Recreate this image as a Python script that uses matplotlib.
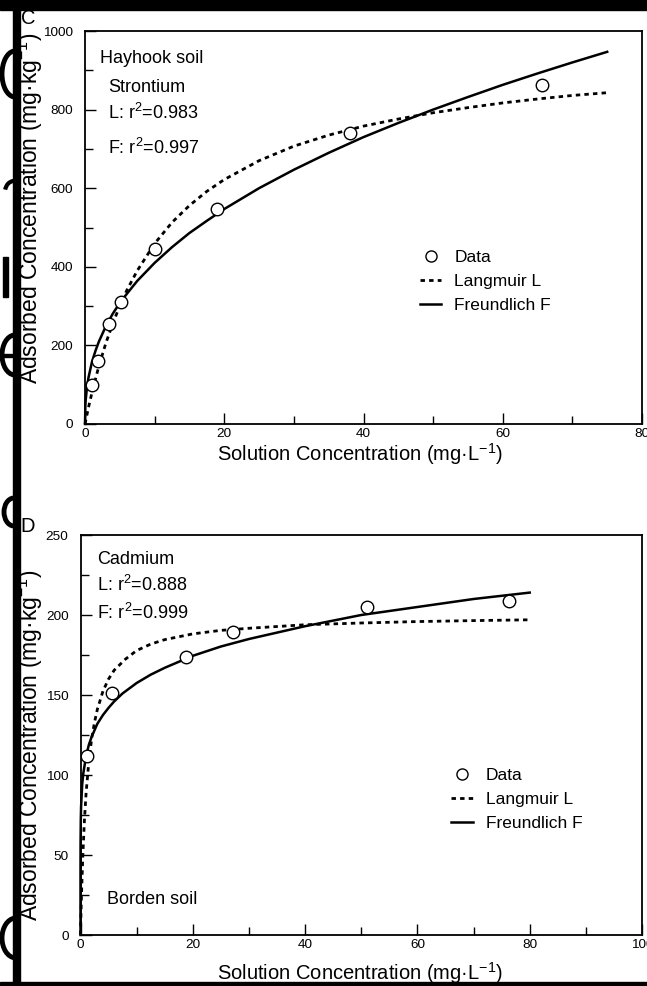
import matplotlib
matplotlib.use("Agg")
import matplotlib.pyplot as plt
from matplotlib.lines import Line2D
from matplotlib.patches import Rectangle, Arc
from matplotlib.ticker import MultipleLocator

plt.rcParams["font.family"] = ["Liberation Sans", "DejaVu Sans"]

# ---- Panel C : Hayhook soil, Strontium ----
sr_x = [0.95, 1.9, 3.5, 5.2, 10.1, 18.9, 38.1, 65.7]
sr_y = [99, 160, 255, 311, 446, 548, 741, 863]
sr_lang_x = [0, 0.5, 1, 2, 3, 4, 5, 6, 7.5, 10, 12.5, 15, 17.5, 20, 25, 30, 35, 40, 45, 50, 55, 60, 65, 70, 75]
sr_lang_y = [0, 42, 80, 148, 206, 256, 301, 340, 390, 459, 513, 556, 592, 622, 670, 707, 735, 758, 776, 792, 805, 817, 827, 836, 843]
sr_freu_x = [0, 0.05, 0.1, 0.3, 0.5, 1, 1.5, 2, 3, 4, 5, 6, 7.5, 10, 12.5, 15, 17.5, 20, 25, 30, 35, 40, 45, 50, 55, 60, 65, 70, 75]
sr_freu_y = [0, 46, 61, 96, 118, 158, 186, 210, 249, 281, 308, 331, 364, 410, 450, 486, 517, 547, 600, 647, 690, 730, 766, 800, 832, 863, 892, 920, 947]

# ---- Panel D : Borden soil, Cadmium ----
cd_x = [1.1, 5.6, 18.8, 27.2, 51.1, 76.3]
cd_y = [112, 151, 174, 189.5, 205, 208.5]
cd_lang_x = [0, 0.05, 0.1, 0.2, 0.4, 0.7, 1, 1.5, 2, 2.5, 3, 4, 5, 6, 8, 10, 12.5, 15, 20, 25, 30, 40, 50, 60, 70, 80]
cd_lang_y = [0, 7.7, 14.8, 27.6, 48.4, 71.8, 88.9, 109, 123, 133, 141, 152.4, 160, 165.5, 172.4, 177.8, 181.8, 184.6, 188.2, 190.4, 191.7, 193.9, 195, 195.9, 196.5, 197]
cd_freu_x = [0, 0.001, 0.01, 0.05, 0.1, 0.3, 0.5, 1, 1.5, 2, 3, 4, 5, 6, 7.5, 10, 12.5, 15, 20, 25, 30, 40, 50, 60, 70, 80]
cd_freu_y = [0, 40, 57, 72, 80, 94, 101, 112, 119, 124, 132, 137.5, 142, 146, 151, 157.5, 162.7, 167, 174.5, 180.3, 185, 193, 200, 205, 210, 214]

W, H = 647, 986
fig = plt.figure(figsize=(W / 100, H / 100), dpi=100)


def fx(px):
    return px / W


def fy(py):
    return 1 - py / H


ax1 = fig.add_axes([fx(85), fy(424), fx(642) - fx(85), fy(31) - fy(424)])
ax2 = fig.add_axes([fx(80.5), fy(935), fx(642) - fx(80.5), fy(535) - fy(935)])

TICK_FS = 9.7
XLAB_FS = 14.5
YLAB_FS = 16.5
TXT_FS = 13
LEG_FS = 12.5
LANG_LS = (0, (1.6, 1.5))


def style(ax, xmax, ymax, xmaj, xmin, ymaj, ymin):
    ax.set_xlim(0, xmax)
    ax.set_ylim(0, ymax)
    ax.xaxis.set_major_locator(MultipleLocator(xmaj))
    ax.xaxis.set_minor_locator(MultipleLocator(xmin))
    ax.yaxis.set_major_locator(MultipleLocator(ymaj))
    ax.yaxis.set_minor_locator(MultipleLocator(ymin))
    ax.tick_params(which="both", direction="in", top=False, right=False,
                   labelsize=TICK_FS, width=1.0)
    ax.tick_params(which="major", length=8)
    ax.tick_params(which="minor", length=6)
    ax.tick_params(axis="y", which="major", pad=8.6)
    ax.tick_params(axis="x", which="major", pad=3)
    for s in ax.spines.values():
        s.set_linewidth(1.3)
    ax.set_xlabel("Solution Concentration (mg·L$^{\\mathregular{-1}}$)", fontsize=XLAB_FS)
    ax.set_ylabel("Adsorbed Concentration (mg·kg$^{\\mathregular{-1}}$)", fontsize=YLAB_FS)


def draw(ax, dx, dy, lx, ly, frx, fry):
    ax.plot(lx, ly, color="black", lw=2.0, linestyle=LANG_LS, clip_on=False)
    ax.plot(frx, fry, color="black", lw=1.8, linestyle="-", clip_on=False)
    ax.plot(dx, dy, linestyle="none", marker="o", markersize=9, markerfacecolor="white",
            markeredgecolor="black", markeredgewidth=1.0, zorder=5)


style(ax1, 80, 1000, 20, 10, 200, 100)
draw(ax1, sr_x, sr_y, sr_lang_x, sr_lang_y, sr_freu_x, sr_freu_y)
style(ax2, 100, 250, 20, 10, 50, 25)
draw(ax2, cd_x, cd_y, cd_lang_x, cd_lang_y, cd_freu_x, cd_freu_y)

# label placement (axes coordinates)
ax1.xaxis.set_label_coords(0.494, -0.043)
ax2.xaxis.set_label_coords(0.498, -0.063)
ax1.yaxis.set_label_coords(-0.072, 0.55)
ax2.yaxis.set_label_coords(-0.063, 0.475)

handles = [
    Line2D([], [], linestyle="none", marker="o", markersize=8, markerfacecolor="white",
           markeredgecolor="black", markeredgewidth=1.0),
    Line2D([], [], color="black", lw=2.0, linestyle=LANG_LS),
    Line2D([], [], color="black", lw=1.8),
]
labels = ["Data", "Langmuir L", "Freundlich F"]
for ax, loc in ((ax1, (0.601, 0.442)), (ax2, (0.66, 0.4175))):
    ax.legend(handles, labels, loc="upper left", bbox_to_anchor=loc, frameon=False,
              fontsize=LEG_FS, handlelength=1.25, handletextpad=0.75, labelspacing=0.5,
              borderaxespad=0, borderpad=0)

# annotations top panel
ax1.text(0.027, 0.931, "Hayhook soil", transform=ax1.transAxes, fontsize=TXT_FS, va="center")
ax1.text(0.041, 0.855, "Strontium", transform=ax1.transAxes, fontsize=TXT_FS, va="center")
ax1.text(0.041, 0.791, "L: r$^{\\mathregular{2}}$=0.983", transform=ax1.transAxes, fontsize=TXT_FS, va="center")
ax1.text(0.041, 0.702, "F: r$^{\\mathregular{2}}$=0.997", transform=ax1.transAxes, fontsize=TXT_FS, va="center")
# annotations bottom panel
ax2.text(0.03, 0.9375, "Cadmium", transform=ax2.transAxes, fontsize=TXT_FS, va="center")
ax2.text(0.03, 0.876, "L: r$^{\\mathregular{2}}$=0.888", transform=ax2.transAxes, fontsize=TXT_FS, va="center")
ax2.text(0.03, 0.806, "F: r$^{\\mathregular{2}}$=0.999", transform=ax2.transAxes, fontsize=TXT_FS, va="center")
ax2.text(0.047, 0.088, "Borden soil", transform=ax2.transAxes, fontsize=TXT_FS, va="center")

# panel letters
fig.text(fx(28), fy(19), "C", fontsize=14.5, ha="center", va="center")
fig.text(fx(28), fy(527), "D", fontsize=14.5, ha="center", va="center")

# scan fragments of large glyphs at the far left (drawn as shapes)
for cx, cy, w, h in ((15, 74, 26, 46), (15, 355, 26, 40), (14, 512, 20, 28), (16, 938, 28, 40)):
    fig.patches.append(Arc((fx(cx), fy(cy)), fx(w), h / H, theta1=95, theta2=265,
                           transform=fig.transFigure, color="black", lw=3.5, zorder=-3))
fig.patches.append(Rectangle((fx(2), fy(357)), fx(12) - fx(2), 3 / H,
                             transform=fig.transFigure, color="black", zorder=-3))
fig.patches.append(Arc((fx(14), fy(192)), fx(18), 22 / H, theta1=20, theta2=170,
                       transform=fig.transFigure, color="black", lw=3.0, zorder=-3))
fig.patches.append(Rectangle((fx(3), fy(297)), fx(8) - fx(3), fy(257) - fy(297),
                             transform=fig.transFigure, color="black", zorder=-3))
# white page area to the right of the bar
fig.patches.append(Rectangle((fx(19), 0), 1, 1, transform=fig.transFigure,
                             color="white", zorder=-2))
# black frame (scan border)
fig.patches.append(Rectangle((0, fy(10)), 1, fy(0) - fy(10), transform=fig.transFigure,
                             color="black", zorder=10))
fig.patches.append(Rectangle((fx(12.7), 0), fx(20) - fx(12.7), 1, transform=fig.transFigure,
                             color="black", zorder=10))
fig.patches.append(Rectangle((0, 0), 1, fy(982), transform=fig.transFigure,
                             color="black", zorder=10))

fig.savefig("out.png", dpi=100)
